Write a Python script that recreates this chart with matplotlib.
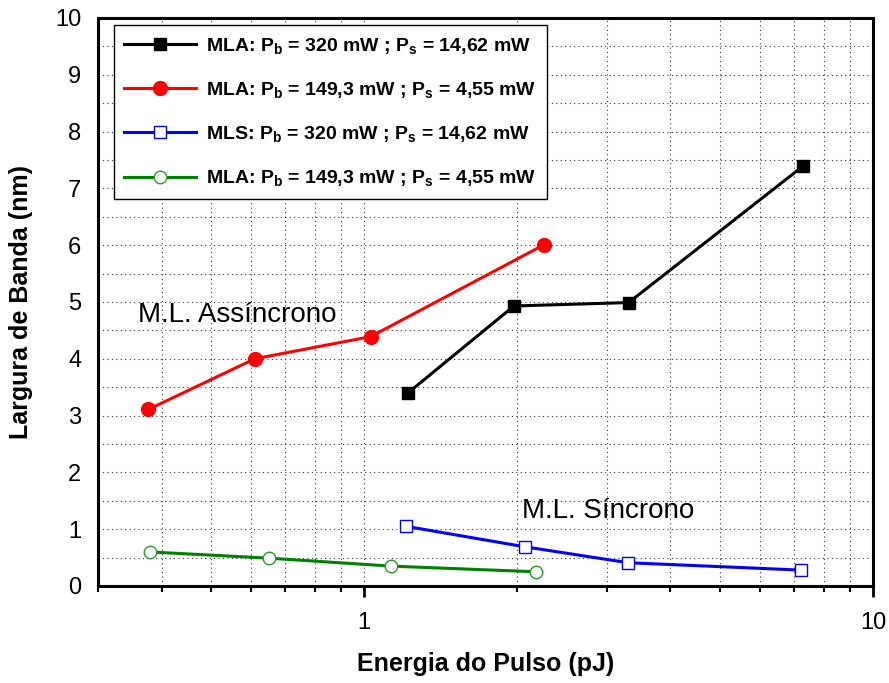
import matplotlib
matplotlib.use("Agg")
import matplotlib.pyplot as plt
from matplotlib.ticker import LogLocator, FixedLocator, NullFormatter, FixedFormatter

plt.rcParams['font.family'] = ['Liberation Sans', 'DejaVu Sans']
plt.rcParams['mathtext.fontset'] = 'custom'
plt.rcParams['mathtext.rm'] = 'Liberation Sans:bold'
plt.rcParams['mathtext.it'] = 'Liberation Sans:bold'
plt.rcParams['mathtext.bf'] = 'Liberation Sans:bold'

# Data
mla320_x = [1.22, 1.97, 3.31, 7.28]
mla320_y = [3.40, 4.93, 4.99, 7.39]
mla149_x = [0.377, 0.61, 1.03, 2.26]
mla149_y = [3.11, 4.00, 4.39, 6.01]
mls320_x = [1.21, 2.07, 3.30, 7.21]
mls320_y = [1.05, 0.69, 0.41, 0.28]
mla149b_x = [0.379, 0.65, 1.13, 2.18]
mla149b_y = [0.60, 0.49, 0.35, 0.25]

labels = [
    r'MLA: P$_\mathrm{b}$ = 320 mW ; P$_\mathrm{s}$ = 14,62 mW',
    r'MLA: P$_\mathrm{b}$ = 149,3 mW ; P$_\mathrm{s}$ = 4,55 mW',
    r'MLS: P$_\mathrm{b}$ = 320 mW ; P$_\mathrm{s}$ = 14,62 mW',
    r'MLA: P$_\mathrm{b}$ = 149,3 mW ; P$_\mathrm{s}$ = 4,55 mW',
]
xlabel = 'Energia do Pulso (pJ)'
ylabel = 'Largura de Banda (nm)'
ann1 = 'M.L. Assíncrono'
ann2 = 'M.L. Síncrono'

fig = plt.figure(figsize=(8.89, 6.83), dpi=100)
ax = fig.add_axes([98/889, 1-586/683, 775/889, 568/683])

lw = 2.2
ax.plot(mla320_x, mla320_y, color='black', lw=lw, marker='s', ms=8.5,
        mfc='black', mec='black', label=labels[0], zorder=5)
ax.plot(mla149_x, mla149_y, color='#ff0000', lw=lw, marker='o', ms=10,
        mfc='#ff0000', mec='#ff0000', label=labels[1], zorder=5)
ax.plot(mls320_x, mls320_y, color='#0000ff', lw=lw, marker='s', ms=9,
        mfc='white', mec='#0000ff', mew=1.0, label=labels[2], zorder=5)
ax.plot(mla149b_x, mla149b_y, color='#007f00', lw=lw, marker='o', ms=9,
        mfc='white', mec='#2a9a2a', mew=1.0, label=labels[3], zorder=5)

ax.set_xscale('log')
ax.set_xlim(0.3, 10)
ax.set_ylim(0, 10)

ax.xaxis.set_major_locator(FixedLocator([1, 10]))
ax.xaxis.set_major_formatter(FixedFormatter(['1', '10']))
ax.xaxis.set_minor_locator(LogLocator(base=10, subs=[2, 3, 4, 5, 6, 7, 8, 9]))
ax.xaxis.set_minor_formatter(NullFormatter())
ax.yaxis.set_major_locator(FixedLocator(list(range(0, 11))))
ax.yaxis.set_minor_locator(FixedLocator([i + 0.5 for i in range(10)]))

ax.grid(True, which='both', axis='both', color='#333333', linestyle=(0, (1, 3)), lw=0.8)
ax.set_axisbelow(True)

for s in ax.spines.values():
    s.set_linewidth(2.2)

ax.tick_params(axis='x', which='major', direction='out', length=8, width=2,
               labelsize=17, pad=11)
ax.tick_params(axis='x', which='minor', direction='out', length=4.5, width=1.5)
ax.tick_params(axis='y', which='both', length=0, labelsize=17, pad=12)

ax.set_xlabel(xlabel, fontsize=18, fontweight='bold', labelpad=13)
ax.set_ylabel(ylabel, fontsize=18, fontweight='bold', labelpad=16)

ax.text(0.359, 4.65, ann1, fontsize=20, ha='left', va='baseline')
ax.text(2.04, 1.19, ann2, fontsize=20, ha='left', va='baseline')

leg = ax.legend(loc='upper left', bbox_to_anchor=(0.02, 0.988),
                prop={'weight': 'bold', 'size': 14},
                handlelength=3.7, handletextpad=0.5, labelspacing=1.25,
                borderpad=0.55, borderaxespad=0, frameon=True, fancybox=False,
                framealpha=1, edgecolor='black')
leg.get_frame().set_linewidth(1.0)
leg.set_zorder(10)

fig.savefig('out.png', dpi=100)
